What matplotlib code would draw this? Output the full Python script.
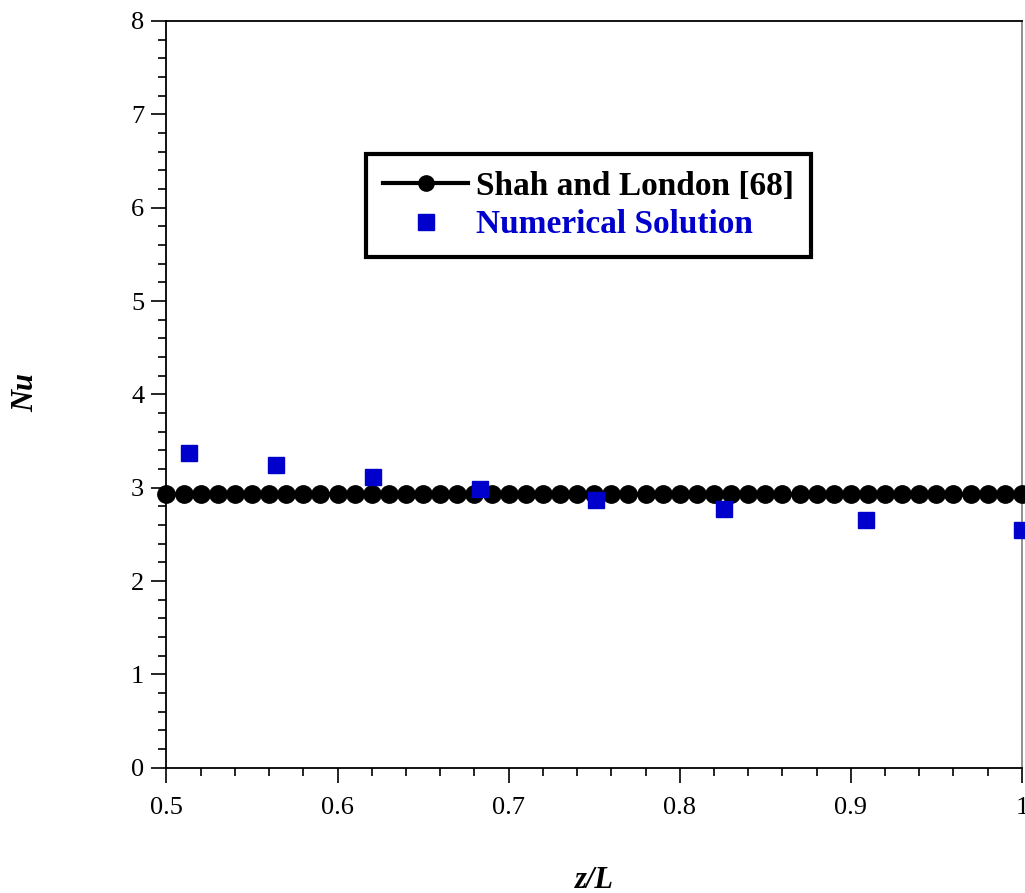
import numpy as np
import matplotlib
matplotlib.use("Agg")
import matplotlib.pyplot as plt
from matplotlib.ticker import MultipleLocator

plt.rcParams['font.family'] = ['Liberation Serif', 'DejaVu Serif']

# Shah and London reference (constant Nu)
shah_z = np.round(np.arange(0.50, 1.0001, 0.01), 2)
shah_nu = [2.93] * len(shah_z)

# numerical solution
num_z = [0.513, 0.564, 0.621, 0.683, 0.751, 0.826, 0.909, 1.0]
num_nu = [3.37, 3.24, 3.11, 2.99, 2.87, 2.77, 2.65, 2.55]

fig = plt.figure(figsize=(10.25, 8.93), dpi=100)
ax = fig.add_axes([0.1624, 0.1403, 0.8346, 0.8362])

ax.plot(shah_z, shah_nu, '-o', color='black', lw=3, ms=12.5,
        label='Shah and London [68]', clip_on=False, zorder=3)
ax.plot(num_z, num_nu, 's', color='#0000cc', ms=11.5, lw=0,
        label='Numerical Solution', clip_on=False, zorder=4)

ax.set_xlim(0.5, 1.0)
ax.set_ylim(0, 8)
ax.xaxis.set_minor_locator(MultipleLocator(0.02))
ax.yaxis.set_major_locator(MultipleLocator(1))
ax.yaxis.set_minor_locator(MultipleLocator(0.2))
ax.set_xticks([0.5, 0.6, 0.7, 0.8, 0.9, 1.0])
ax.set_xticklabels(['0.5', '0.6', '0.7', '0.8', '0.9', '1'])

ax.tick_params(which='both', direction='out', top=False, right=False,
               labelsize=19, width=1.2)
ax.tick_params(which='major', length=11)
ax.tick_params(which='minor', length=6)
ax.tick_params(axis='x', pad=10)
ax.tick_params(axis='y', pad=5)

for s in ['left', 'bottom', 'top']:
    ax.spines[s].set_linewidth(1.3)
    ax.spines[s].set_color('black')
ax.spines['right'].set_color('#888888')
ax.spines['right'].set_linewidth(1.3)

ax.set_xlabel('z/L', fontsize=22, fontweight='bold', style='italic')
ax.xaxis.set_label_coords(0.5, -0.151)
ax.xaxis.label.set_va('center')
ax.set_ylabel('Nu', fontsize=22, fontweight='bold', style='italic')
ax.yaxis.set_label_coords(-0.164, 0.503)
ax.yaxis.label.set_va('center')

leg = ax.legend(loc='lower left', bbox_to_anchor=(0.2338, 0.684),
                borderaxespad=0, fancybox=False, framealpha=1,
                edgecolor='black', prop={'weight': 'bold', 'size': 24},
                handlelength=2.55, handletextpad=0.25, borderpad=0.5,
                labelspacing=0.22)
leg.get_frame().set_linewidth(3)
leg.legend_handles[0].set_markersize(11)
leg.legend_handles[1].set_markersize(11.5)
leg.get_texts()[1].set_color('#0000cc')

fig.savefig('out.png', dpi=100)
